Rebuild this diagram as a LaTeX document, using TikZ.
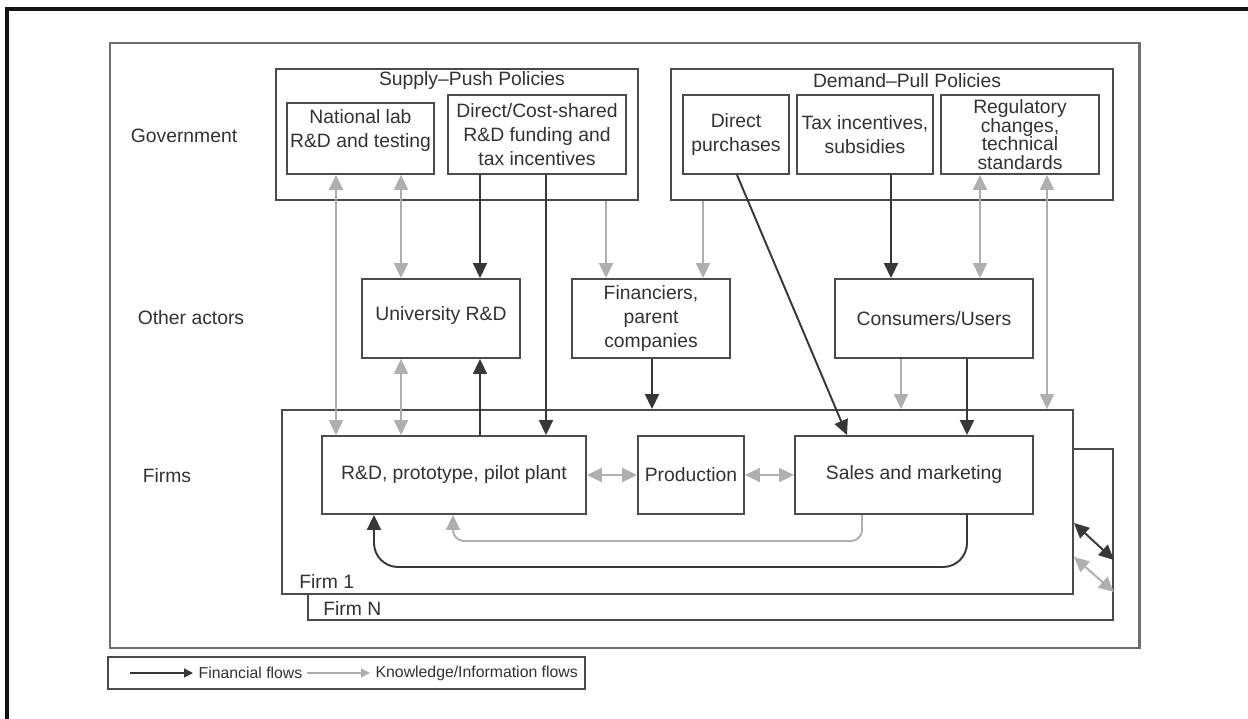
\documentclass[tikz,border=0pt]{standalone}
\usepackage{fontspec}
\setmainfont{Liberation Sans}
\usetikzlibrary{arrows.meta, fit}
\definecolor{framecolor}{RGB}{20,20,20}
\definecolor{outercolor}{RGB}{110,110,110}
\definecolor{boxcolor}{RGB}{75,75,75}
\definecolor{fincolor}{RGB}{55,55,55}
\definecolor{knowcolor}{RGB}{175,175,175}
\definecolor{txtcolor}{RGB}{50,50,50}

\tikzset{
  box/.style={draw=boxcolor, line width=1.1pt, inner sep=0pt, align=center, text=txtcolor},
  frame/.style={draw=boxcolor, line width=1.1pt, inner sep=0pt},
  lbl/.style={text=txtcolor, inner sep=0pt},
  legendlbl/.style={text=txtcolor, inner sep=3pt, anchor=west, font=\fontsize{9pt}{11pt}\selectfont},
  finflow/.style={draw=fincolor, line width=1.1pt},
  knowflow/.style={draw=knowcolor, line width=1.1pt},
}

\begin{document}
\begin{tikzpicture}[x=0.02cm, y=-0.02cm, >={Triangle[length=3mm,width=2.8mm]}, font=\fontsize{11pt}{13.5pt}\selectfont]
    \useasboundingbox (0,0) rectangle (1248,719);

    % Cadre
    \draw[framecolor, line width=2pt] (1248,9) -- (7,9) -- (7,719);

    % Systeme
    \node[frame, draw=outercolor, line width=1.7pt, fit={(110,43) (1139,648)}] (system) {};

    % Niveaux
    \node[lbl] (gov) at (184,136) {Government};
    \node[lbl] (oth) at (191,318) {Other actors};
    \node[lbl] (frm) at (167,476) {Firms};

    % === SUPPLY-PUSH ===
    \node[frame, fit={(276,69) (638,200)}] (supply) {};
    \node[lbl] (supplyttl) at (472,81) {Supply--Push Policies};
    \node[box, minimum width=2.94cm, minimum height=1.42cm, text depth=11pt] (natlab) at (360.5,138.5) {National lab\\R\&D and testing};
    \node[box, minimum width=3.56cm, minimum height=1.58cm] (costshare) at (537,134.5) {Direct/Cost-shared\\R\&D funding and\\tax incentives};

    % === DEMAND-PULL ===
    \node[frame, fit={(671,69) (1113,200)}] (demand) {};
    \node[lbl] (demandttl) at (907,81) {Demand--Pull Policies};
    \node[box, minimum width=2.12cm, minimum height=1.58cm] (purch) at (736,134.5) {Direct\\purchases};
    \node[box, minimum width=2.72cm, minimum height=1.58cm] (taxinc) at (865,134.5) {Tax incentives,\\subsidies};
    \node[box, minimum width=3.16cm, minimum height=1.58cm, font=\fontsize{11pt}{10.6pt}\selectfont] (regul) at (1020,134.5) {Regulatory\\changes,\\technical\\standards};

    % Autres acteurs
    \node[box, minimum width=3.16cm, minimum height=1.58cm, text depth=6pt] (univ) at (441,318.5) {University R\&D};
    \node[box, minimum width=3.16cm, minimum height=1.58cm] (financ) at (651,318.5) {Financiers,\\parent\\companies};
    \node[box, minimum width=3.96cm, minimum height=1.58cm] (consum) at (934,318.5) {Consumers/Users};

    % Firmes
    \node[frame, fill=white, fit={(308,449) (1113,620)}] (firmN) {};
    \node[lbl, anchor=west] (firmNlbl) at (323,608) {Firm N};
    \node[frame, fill=white, fit={(282,410) (1073,594)}] (firm1) {};
    \node[lbl, anchor=west] (firm1lbl) at (299,581) {Firm 1};
    \node[box, minimum width=5.28cm, minimum height=1.56cm] (rnd) at (454,475) {R\&D, prototype, pilot plant};
    \node[box, minimum width=2.12cm, minimum height=1.56cm] (prod) at (691,475) {Production};
    \node[box, minimum width=4.76cm, minimum height=1.56cm] (sales) at (914,475) {Sales and marketing};

    % Positions des fleches
    \coordinate (xnat) at (336,0);
    \coordinate (xuni) at (401,0);
    \coordinate (xcost) at (480,0);
    \coordinate (xcostrd) at (546,0);
    \coordinate (xspf) at (606,0);
    \coordinate (xfin) at (652,0);
    \coordinate (xdpf) at (703,0);
    \coordinate (xpurch) at (737,0);
    \coordinate (xpsales) at (847,0);
    \coordinate (xtax) at (891,0);
    \coordinate (xconsf) at (901,0);
    \coordinate (xconss) at (967,0);
    \coordinate (xregc) at (980,0);
    \coordinate (xregf) at (1047,0);
    \coordinate (xloopk) at (862,0);
    \coordinate (xloopkrd) at (453,0);
    \coordinate (xloopfrd) at (374,0);
    \coordinate (yloopk) at (0,541);
    \coordinate (yloopf) at (0,567);
    \coordinate (ylinkf) at (0,523);
    \coordinate (ylinkf2) at (0,560);
    \coordinate (ylinkk) at (0,557);
    \coordinate (ylinkk2) at (0,592);

    % Flux de connaissances
    \draw[knowflow, <->] (natlab.south -| xnat) -- (rnd.north -| xnat);
    \draw[knowflow, <->] (natlab.south -| xuni) -- (univ.north -| xuni);
    \draw[knowflow, <->] (univ.south -| xuni) -- (rnd.north -| xuni);
    \draw[knowflow, ->] (supply.south -| xspf) -- (financ.north -| xspf);
    \draw[knowflow, ->] (demand.south -| xdpf) -- (financ.north -| xdpf);
    \draw[knowflow, <->] (regul.south -| xregc) -- (consum.north -| xregc);
    \draw[knowflow, <->] (regul.south -| xregf) -- (firm1.north -| xregf);
    \draw[knowflow, ->] (consum.south -| xconsf) -- (firm1.north -| xconsf);
    \draw[knowflow, <->] (rnd) -- (prod);
    \draw[knowflow, <->] (prod) -- (sales);
    \draw[knowflow, ->, rounded corners=0.22cm] (sales.south -| xloopk) -- (xloopk |- yloopk) -| (rnd.south -| xloopkrd);
    \draw[knowflow, <->] (firm1.east |- ylinkk) -- (firmN.east |- ylinkk2);

    % Flux financiers
    \draw[finflow, ->] (costshare.south -| xcost) -- (univ.north -| xcost);
    \draw[finflow, ->] (costshare.south -| xcostrd) -- (rnd.north -| xcostrd);
    \draw[finflow, ->] (rnd.north -| xcost) -- (univ.south -| xcost);
    \draw[finflow, ->] (financ.south -| xfin) -- (firm1.north -| xfin);
    \draw[finflow, ->] (purch.south -| xpurch) -- (sales.north -| xpsales);
    \draw[finflow, ->] (taxinc.south -| xtax) -- (consum.north -| xtax);
    \draw[finflow, ->] (consum.south -| xconss) -- (sales.north -| xconss);
    \draw[finflow, ->, rounded corners=0.48cm] (sales.south -| xconss) -- (xconss |- yloopf) -| (rnd.south -| xloopfrd);
    \draw[finflow, <->] (firm1.east |- ylinkf) -- (firmN.east |- ylinkf2);

    % Legende
    \node[frame, fit={(108,657) (585,689)}] (legend) {};
    \coordinate (lgfinstart) at (130,673);
    \coordinate (lgknstart) at (307,673);
    \node[legendlbl] (lgfin) at (193,673) {Financial flows};
    \node[legendlbl] (lgkn) at (370,673) {Knowledge/Information flows};
    \draw[finflow, line width=0.9pt, -{Triangle[length=1.8mm,width=1.8mm]}] (lgfinstart) -- (lgfin.west);
    \draw[knowflow, line width=0.9pt, -{Triangle[length=1.8mm,width=1.8mm]}] (lgknstart) -- (lgkn.west);
\end{tikzpicture}
\end{document}
